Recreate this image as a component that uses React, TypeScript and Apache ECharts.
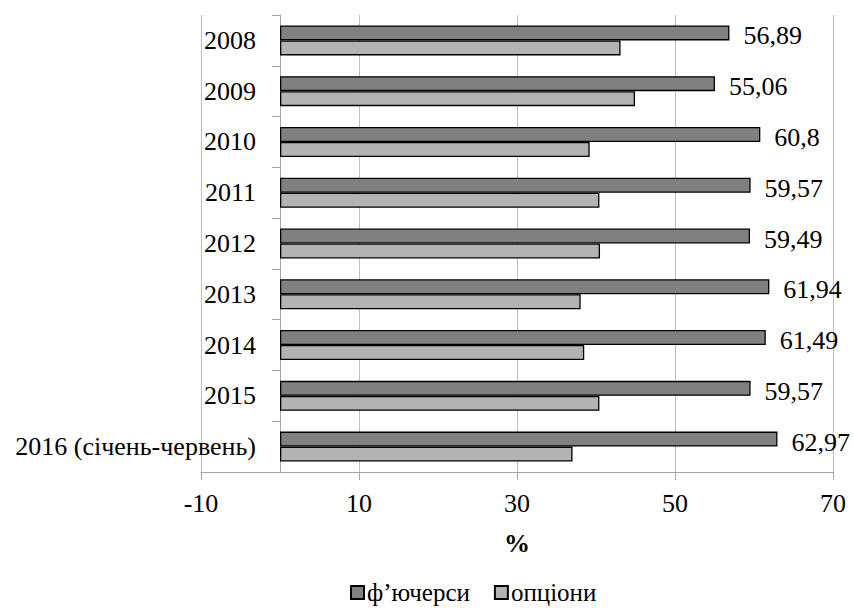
import React, { useEffect, useRef } from "react";
import * as echarts from "echarts";

const categories = [
  "2008",
  "2009",
  "2010",
  "2011",
  "2012",
  "2013",
  "2014",
  "2015",
  "2016 (січень-червень)",
];
const futures = [56.89, 55.06, 60.8, 59.57, 59.49, 61.94, 61.49, 59.57, 62.97];
const options = [43.11, 44.94, 39.2, 40.43, 40.51, 38.06, 38.51, 40.43, 37.03];
const seriesNames = ["ф’ючерси", "опціони"];
const axisName = "%";

const FONT = "'Liberation Serif', 'Times New Roman', serif";

export default function App() {
  const ref = useRef<HTMLDivElement>(null);
  useEffect(() => {
    if (!ref.current) return;
    const chart = echarts.init(ref.current, null, { renderer: "svg" });
    chart.setOption({
      animation: false,
      backgroundColor: "#ffffff",
      textStyle: { fontFamily: FONT, color: "#000" },
      grid: {
        left: 201,
        right: 21,
        top: 15,
        bottom: 136,
        containLabel: false,
        outerBoundsMode: "none",
      },
      legend: {
        left: 350,
        top: 580,
        padding: 0,
        itemWidth: 13,
        itemHeight: 13,
        itemGap: 24,
        icon: "rect",
        textStyle: {
          fontFamily: FONT,
          fontSize: 25,
          lineHeight: 18,
          color: "#000",
          padding: [0, 0, 0, -2],
        },
        data: seriesNames,
      },
      xAxis: {
        type: "value",
        min: -10,
        max: 70,
        interval: 20,
        name: axisName,
        nameLocation: "middle",
        nameGap: 58,
        nameTextStyle: { fontFamily: FONT, fontSize: 26, fontWeight: "bold", color: "#000" },
        axisLine: { show: true, lineStyle: { color: "#a6a6a6", width: 1 } },
        axisTick: { show: true, length: 8, lineStyle: { color: "#a6a6a6" } },
        axisLabel: { fontFamily: FONT, fontSize: 26, color: "#000", margin: 18 },
        splitLine: { show: true, lineStyle: { color: "#bfbfbf", width: 1 } },
      },
      yAxis: {
        type: "category",
        data: categories,
        inverse: true,
        axisLine: { show: true, onZero: true, lineStyle: { color: "#a6a6a6", width: 1 } },
        axisTick: { show: true, length: 8, lineStyle: { color: "#a6a6a6" } },
        axisLabel: { fontFamily: FONT, fontSize: 26, color: "#000", margin: -55 },
        splitLine: { show: false },
      },
      series: [
        {
          name: seriesNames[0],
          type: "bar",
          data: futures,
          barWidth: 15,
          barGap: "0%",
          itemStyle: { color: "#808080", borderColor: "#000", borderWidth: 1.3 },
          label: {
            show: true,
            position: "right",
            distance: 14,
            offset: [0, 3],
            fontFamily: FONT,
            fontSize: 26,
            color: "#000",
            formatter: (p: any) => String(p.value).replace(".", ","),
          },
        },
        {
          name: seriesNames[1],
          type: "bar",
          data: options,
          barWidth: 15,
          barGap: "0%",
          itemStyle: { color: "#b3b3b3", borderColor: "#000", borderWidth: 1.3 },
        },
      ],
    });
    return () => chart.dispose();
  }, []);
  return (
    <div
      ref={ref}
      style={{ position: "fixed", left: 0, top: 0, width: 854, height: 608, background: "#fff" }}
    />
  );
}
